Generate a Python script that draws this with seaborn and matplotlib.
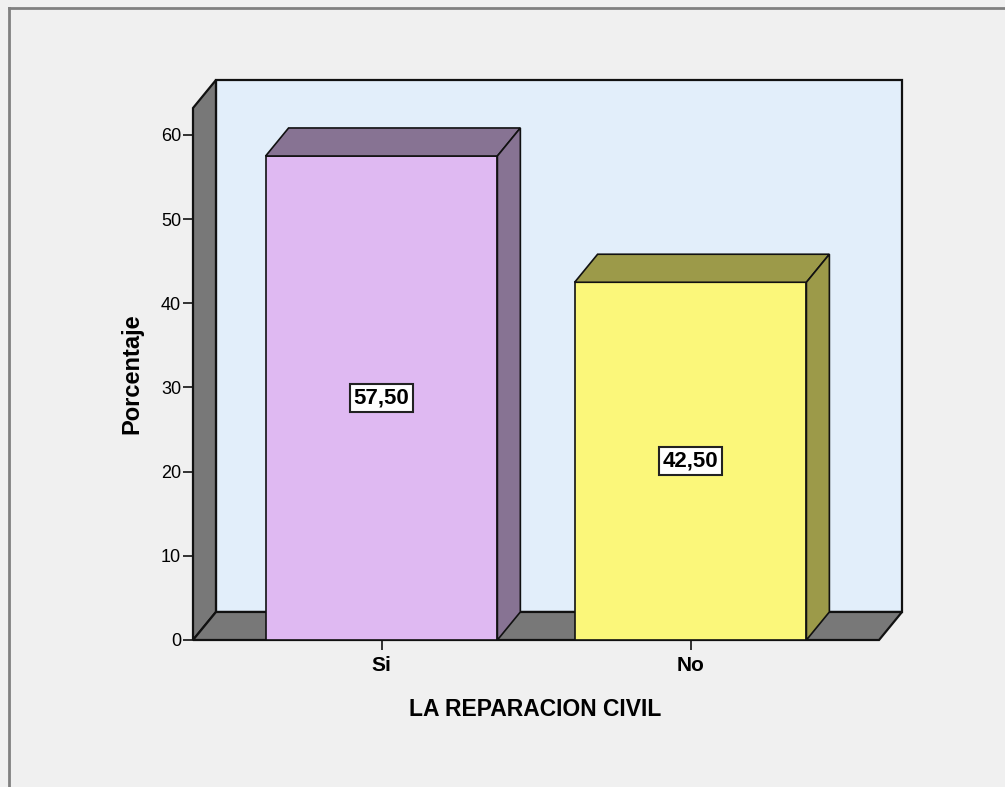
import numpy as np
import pandas as pd
import seaborn as sns
import matplotlib.pyplot as plt
from matplotlib.patches import Polygon, Rectangle
from matplotlib.lines import Line2D

# data
categorias = ["Si", "No"]
porcentajes = [57.50, 42.50]
etiquetas = ["57,50", "42,50"]
colores_frente = ["#DFB9F2", "#FBF77A"]
colores_lado = ["#877393", "#9C9A49"]

plt.rcParams['font.family'] = ['Liberation Sans', 'DejaVu Sans']

df = pd.DataFrame({"cat": categorias, "pct": porcentajes})

fig = plt.figure(figsize=(10.05, 7.87), dpi=100, facecolor="#F0F0F0")
W, H = 1005, 787
ax = fig.add_axes([193 / W, (H - 640) / H, (902 - 193) / W, (640 - 80) / H])
ax.set_facecolor("none")

# 3D depth offsets (data units)
dx, dy = 0.0743, 3.33
x0, x1 = -0.61, 1.61
ytop = 63.2
borde = "#111111"

# back wall
ax.add_patch(Rectangle((x0 + dx, dy), (x1 - x0), ytop, facecolor="#E2EEFA",
                       edgecolor=borde, lw=1.6, zorder=0, clip_on=False))
# left wall
ax.add_patch(Polygon([(x0, 0), (x0, ytop), (x0 + dx, ytop + dy), (x0 + dx, dy)],
                     closed=True, facecolor="#787878", edgecolor=borde, lw=1.6,
                     zorder=1, clip_on=False))
# floor
ax.add_patch(Polygon([(x0, 0), (x1, 0), (x1 + dx, dy), (x0 + dx, dy)],
                     closed=True, facecolor="#787878", edgecolor=borde, lw=1.6,
                     zorder=1, clip_on=False))

sns.barplot(data=df, x="cat", y="pct", hue="cat", palette=colores_frente,
            saturation=1, width=0.75, edgecolor=borde, linewidth=1.2,
            legend=False, ax=ax, zorder=3)

for i, p in enumerate(ax.patches[-len(categorias):]):
    p.set_clip_on(False)
    bx, bw, bh = p.get_x(), p.get_width(), p.get_height()
    top = [(bx, bh), (bx + bw, bh), (bx + bw + dx, bh + dy), (bx + dx, bh + dy)]
    side = [(bx + bw, 0), (bx + bw, bh), (bx + bw + dx, bh + dy), (bx + bw + dx, dy)]
    ax.add_patch(Polygon(top, closed=True, facecolor=colores_lado[i],
                         edgecolor=borde, lw=1.2, zorder=3))
    ax.add_patch(Polygon(side, closed=True, facecolor=colores_lado[i],
                         edgecolor=borde, lw=1.2, zorder=3))
    ax.text(bx + bw / 2, bh / 2, etiquetas[i], ha="center", va="center",
            fontsize=16, fontweight="bold", color="black", zorder=5,
            bbox=dict(boxstyle="square,pad=0.15", facecolor="white",
                      edgecolor="#222222", lw=1.5))

ax.set_xlim(x0, x1 + dx)
ax.set_ylim(0, ytop + dy)

for s in ax.spines.values():
    s.set_visible(False)

ax.set_yticks(np.arange(0, 61, 10))
ax.tick_params(axis="y", length=7.5, width=1.2, color=borde, labelsize=13, pad=1)
ax.tick_params(axis="x", length=7.5, width=1.2, color=borde, labelsize=15, pad=4)
for t in ax.get_xticklabels():
    t.set_fontweight("bold")

ax.set_ylabel("Porcentaje", fontsize=17, fontweight="bold")
ax.yaxis.set_label_coords(-0.0705, 0.475)
ax.set_xlabel("LA REPARACION CIVIL", fontsize=16.5, fontweight="bold")
ax.xaxis.set_label_coords(0.482, -0.104)

# outer frame
fig.add_artist(Line2D([9 / W, 9 / W], [0, 1 - 7.5 / H], transform=fig.transFigure,
                      color="#808080", lw=2))
fig.add_artist(Line2D([9 / W, 1], [1 - 7.5 / H, 1 - 7.5 / H], transform=fig.transFigure,
                      color="#808080", lw=2))

fig.savefig("out.png", dpi=100, facecolor=fig.get_facecolor())
